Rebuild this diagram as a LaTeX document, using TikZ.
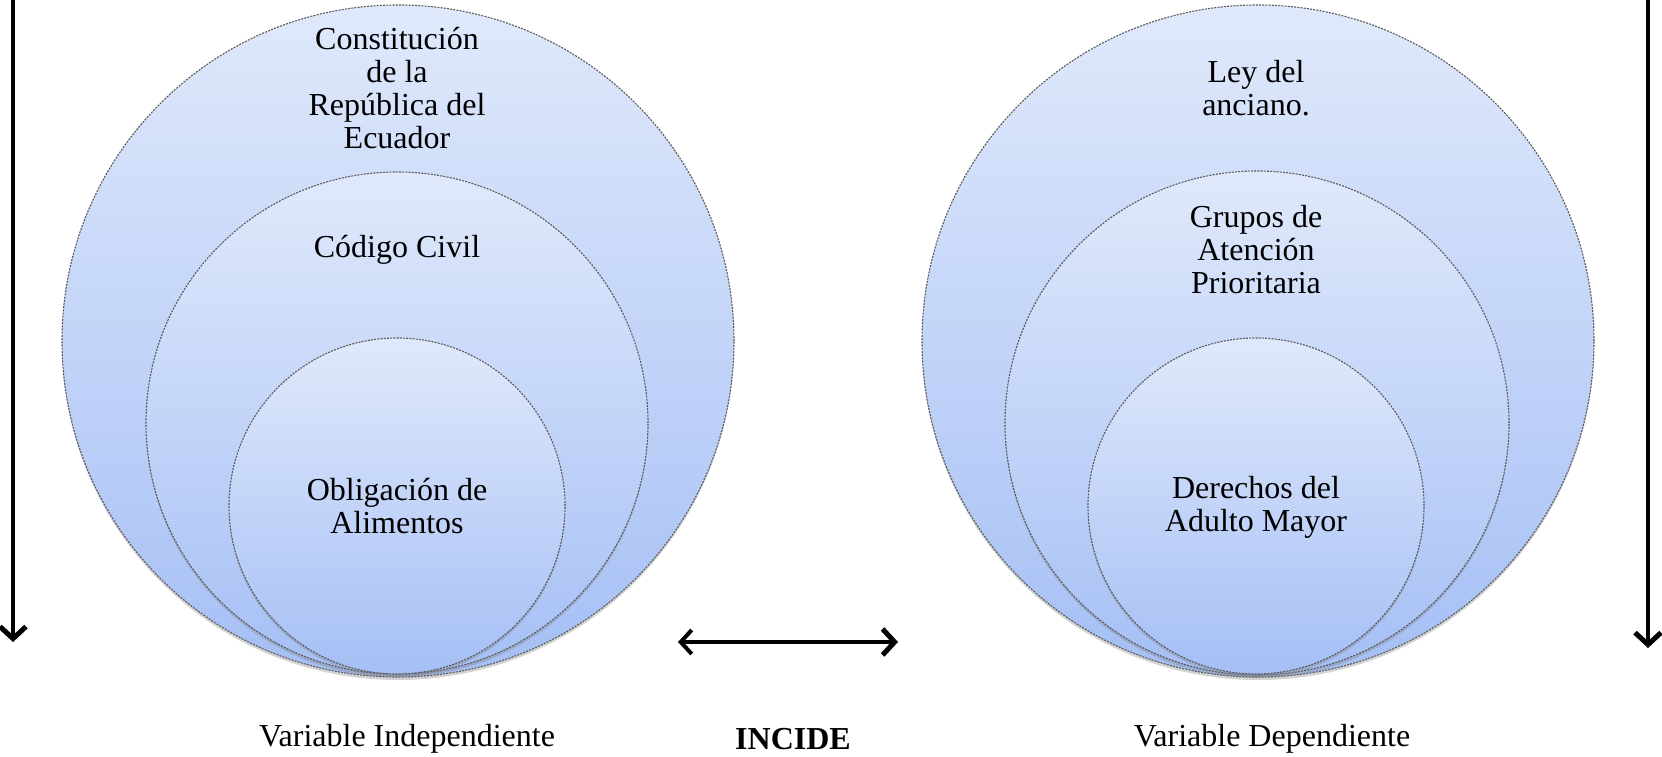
\documentclass[tikz,border=0pt]{standalone}
\usepackage{fontspec}
\setmainfont{Liberation Serif}
\usepackage{tikz}
\usetikzlibrary{arrows.meta}
\usetikzlibrary{positioning}
\usetikzlibrary{shadows}
\usepackage{xcolor}
\definecolor{ringtop}{RGB}{224,233,251}
\definecolor{ringbottom}{RGB}{165,191,245}

\begin{document}
\begin{tikzpicture}[
    x=1pt, y=1pt,
    % circles of the two groups
    ring/.style={
        circle,
        draw=black!65,
        line width=1.1pt,
        dash pattern=on 2pt off 1.2pt,
        top color=ringtop,
        bottom color=ringbottom,
        inner sep=0pt,
        drop shadow={shadow xshift=0pt, shadow yshift=-3pt, opacity=0.35}
    },
    % texts
    ring text/.style={
        align=center,
        font=\fontsize{32}{33}\selectfont
    },
    var label/.style={
        font=\fontsize{32}{33}\selectfont
    },
    % thick arrows
    big arrow/.style={
        line width=4.5pt,
        -{Straight Barb[length=12pt, width=26pt, line width=5pt]}
    },
    both arrow/.style={
        line width=4.5pt,
        {Straight Barb[length=11pt, width=24pt, line width=4pt]}-{Straight Barb[length=12pt, width=26pt, line width=5pt]}
    }
]
\useasboundingbox (0,0) rectangle (1662,756);

% -------------------------------
% Circles (outer, middle, inner)
\foreach \name/\x/\y/\r in {outerL/398/341/336, midL/397/423/251, innerL/397/506/168,
                            outerR/1258/341/336, midR/1257/423/252, innerR/1256/506/168}
{
    \node[ring, minimum size=2*\r] (\name) at (\x, 756-\y) {};
}

% -------------------------------
% Texts of the left group
\node[ring text] (constitucion) at (397, 756-88) {Constitución\\de la\\República del\\Ecuador};
\node[ring text] (codigo) at (397, 756-250) {Código Civil};
\node[ring text] (obligacion) at (397, 756-506) {Obligación de\\Alimentos};

% Texts of the right group
\node[ring text] (ley) at (1256, 756-88) {Ley del\\anciano.};
\node[ring text] (grupos) at (1256, 756-250) {Grupos de\\Atención\\Prioritaria};
\node[ring text] (derechos) at (1256, 756-507) {Derechos del\\Adulto Mayor};

% -------------------------------
% Labels under the circles
\node[var label] (independiente) at (407, 17) {Variable Independiente};
\node[var label, font=\fontsize{32}{33}\selectfont\bfseries] (incide) at (793, 17) {INCIDE};
\node[var label] (dependiente) at (1272, 17) {Variable Dependiente};

% -------------------------------
% Arrows
\coordinate (leftTop) at (13, 756);
\coordinate (leftEnd) at (13, 756-642);
\coordinate (rightTop) at (1648, 756);
\coordinate (rightEnd) at (1648, 756-648);
\coordinate (incideL) at (678, 756-642);
\coordinate (incideR) at (898, 756-642);

\draw[big arrow] (leftTop) -- (leftEnd);
\draw[big arrow] (rightTop) -- (rightEnd);
\draw[both arrow] (incideL) -- (incideR);

\end{tikzpicture}
\end{document}
